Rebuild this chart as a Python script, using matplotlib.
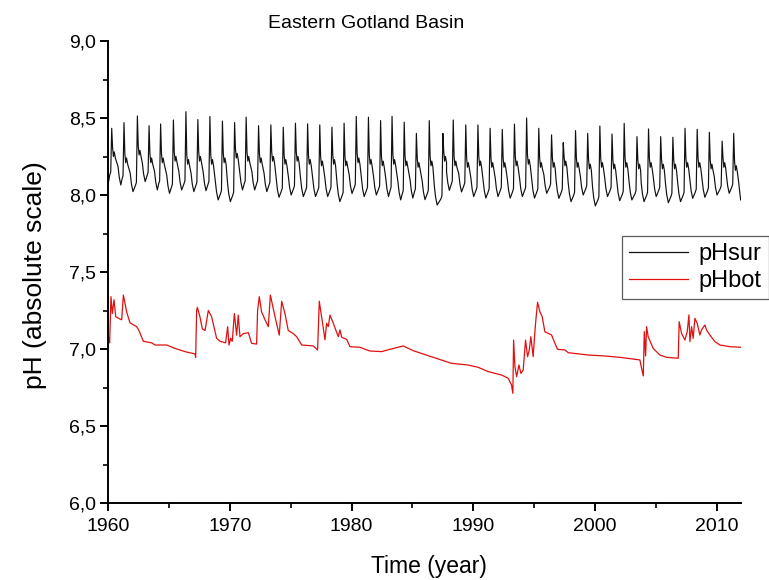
import numpy as np
import matplotlib
matplotlib.use("Agg")
import matplotlib.pyplot as plt
from matplotlib.ticker import MultipleLocator, FuncFormatter

plt.rcParams['font.family'] = ['Liberation Sans', 'DejaVu Sans']

# ---------------- data ----------------
title = "Eastern Gotland Basin"
x_label = "Time (year)"
y_label = "pH (absolute scale)"
series_names = ["pHsur", "pHbot"]

# surface pH: yearly spring peak, winter low (start of each year), summer plateau
sur_years = list(range(1960, 2012))
sur_peak = [8.433, 8.47, 8.513, 8.45, 8.461, 8.487, 8.541, 8.49, 8.51, 8.48,
            8.47, 8.505, 8.45, 8.455, 8.44, 8.466, 8.462, 8.455, 8.44, 8.466,
            8.51, 8.505, 8.483, 8.51, 8.473, 8.40, 8.483, 8.40, 8.487, 8.455,
            8.455, 8.433, 8.426, 8.46, 8.50, 8.433, 8.39, 8.34, 8.418, 8.40,
            8.448, 8.396, 8.465, 8.379, 8.429, 8.379, 8.375, 8.433, 8.427, 8.407,
            8.35, 8.40]
sur_low = [8.09, 8.065, 8.022, 8.087, 8.033, 8.011, 8.033, 8.022, 8.028, 7.968,
           7.957, 8.033, 8.033, 8.022, 7.985, 8.0, 7.99, 7.99, 7.99, 7.957,
           8.01, 7.99, 8.0, 7.99, 7.968, 7.98, 7.97, 7.935, 8.03, 8.02,
           7.99, 7.98, 7.99, 7.98, 7.99, 7.98, 8.011, 7.978, 7.957, 8.0,
           7.929, 7.99, 7.963, 7.968, 7.957, 7.99, 7.95, 7.957, 7.978, 7.985,
           8.0, 8.011, 7.968]
sur_plateau = [8.27, 8.23, 8.28, 8.23, 8.23, 8.24, 8.22, 8.24, 8.22, 8.23,
               8.26, 8.24, 8.23, 8.24, 8.22, 8.24, 8.22, 8.21, 8.22, 8.21,
               8.23, 8.22, 8.21, 8.22, 8.21, 8.20, 8.21, 8.24, 8.21, 8.20,
               8.21, 8.20, 8.20, 8.21, 8.22, 8.20, 8.20, 8.21, 8.20, 8.19,
               8.20, 8.19, 8.20, 8.19, 8.20, 8.19, 8.19, 8.20, 8.20, 8.19,
               8.20, 8.18]
sur_peak_time = [0.28, 0.29, 0.39, 0.35, 0.30, 0.35, 0.38, 0.36, 0.35, 0.38,
                 0.38, 0.33, 0.35, 0.36, 0.38, 0.38, 0.38, 0.38, 0.38, 0.38,
                 0.38, 0.38, 0.38, 0.32, 0.32, 0.32, 0.38, 0.50, 0.35, 0.38,
                 0.38, 0.38, 0.38, 0.38, 0.38, 0.38, 0.43, 0.39, 0.40, 0.40,
                 0.40, 0.40, 0.40, 0.45, 0.40, 0.40, 0.40, 0.40, 0.40, 0.40,
                 0.45, 0.40]
sur_end = (2011.97, 7.968)

bot_years = [1960.00, 1960.06, 1960.11, 1960.22, 1960.33, 1960.47, 1960.61, 1960.82, 1961.10, 1961.24,
             1961.51, 1961.78, 1962.33, 1962.52, 1962.88, 1963.56, 1963.84, 1964.80, 1965.48, 1966.30,
             1967.12, 1967.18, 1967.26, 1967.32, 1967.53, 1967.73, 1967.95, 1968.22, 1968.49, 1968.90,
             1969.18, 1969.64, 1969.81, 1969.92, 1970.06, 1970.19, 1970.36, 1970.47, 1970.55, 1970.68,
             1970.82, 1971.10, 1971.51, 1971.78, 1972.19, 1972.27, 1972.41, 1972.60, 1972.88, 1973.15,
             1973.32, 1973.70, 1974.05, 1974.25, 1974.52, 1974.79, 1975.20, 1975.48, 1975.89, 1976.85,
             1977.20, 1977.34, 1977.53, 1977.81, 1977.94, 1978.08, 1978.22, 1978.49, 1978.76, 1978.90,
             1979.04, 1979.18, 1979.59, 1979.86, 1980.68, 1981.50, 1982.46, 1983.15, 1984.24, 1985.06,
             1985.89, 1987.20, 1988.21, 1989.58, 1990.40, 1991.23, 1992.32, 1992.87, 1993.14, 1993.25,
             1993.31, 1993.42, 1993.56, 1993.75, 1993.91, 1994.10, 1994.29, 1994.46, 1994.60, 1994.73,
             1994.92, 1995.06, 1995.14, 1995.28, 1995.47, 1995.66, 1995.88, 1996.43, 1996.65, 1996.92,
             1997.53, 1997.80, 1999.44, 2000.76, 2002.05, 2003.69, 2003.83, 2003.97, 2004.05, 2004.16,
             2004.24, 2004.37, 2004.78, 2005.33, 2005.88, 2006.84, 2006.92, 2007.11, 2007.39, 2007.58,
             2007.72, 2007.80, 2007.94, 2008.07, 2008.21, 2008.40, 2008.62, 2008.75, 2009.03, 2009.17,
             2009.44, 2009.85, 2010.27, 2011.09, 2011.98]
bot_ph = [7.08, 7.07, 7.04, 7.34, 7.23, 7.32, 7.21, 7.20, 7.19, 7.35,
          7.24, 7.17, 7.145, 7.12, 7.05, 7.04, 7.026, 7.026, 7.004, 6.983,
          6.968, 6.946, 7.25, 7.27, 7.21, 7.13, 7.12, 7.25, 7.21, 7.07,
          7.05, 7.04, 7.145, 7.026, 7.07, 7.05, 7.23, 7.145, 7.09, 7.22,
          7.08, 7.10, 7.106, 7.037, 7.032, 7.25, 7.34, 7.24, 7.19, 7.145,
          7.35, 7.21, 7.09, 7.31, 7.23, 7.12, 7.10, 7.08, 7.026, 7.02,
          6.993, 7.31, 7.21, 7.06, 7.167, 7.145, 7.22, 7.167, 7.11, 7.08,
          7.124, 7.076, 7.063, 7.015, 7.011, 6.987, 6.983, 6.998, 7.02, 6.989,
          6.967, 6.933, 6.907, 6.896, 6.881, 6.853, 6.831, 6.81, 6.766, 6.712,
          7.058, 6.885, 6.82, 6.896, 6.842, 6.864, 7.058, 6.95, 6.994, 7.08,
          6.95, 7.112, 7.188, 7.303, 7.242, 7.21, 7.112, 7.091, 7.048, 6.998,
          6.994, 6.976, 6.961, 6.955, 6.946, 6.929, 6.874, 6.825, 7.113, 6.955,
          7.145, 7.08, 7.004, 6.961, 6.946, 6.94, 7.177, 7.102, 7.058, 7.113,
          7.221, 7.048, 7.145, 7.069, 7.199, 7.167, 7.091, 7.123, 7.156, 7.123,
          7.091, 7.048, 7.026, 7.015, 7.011]

x_ticks = [1960, 1970, 1980, 1990, 2000, 2010]
y_ticks = [6.0, 6.5, 7.0, 7.5, 8.0, 8.5, 9.0]

# ---------------- build surface curve from yearly readings ----------------
sx, sy = [], []
for i, yr in enumerate(sur_years):
    lo, nxt = sur_low[i], sur_low[i + 1]
    pk, pl, pt = sur_peak[i], sur_plateau[i], sur_peak_time[i]
    sx += [yr + 0.03, yr + pt - 0.16, yr + pt - 0.08, yr + pt,
           yr + pt + 0.07, yr + pt + 0.14, yr + pt + 0.21, yr + pt + 0.30,
           yr + 0.80, yr + 0.90]
    sy += [lo, lo + 0.04, lo + 0.06, pk,
           pl + 0.04, pl - 0.02, pl + 0.01, pl - 0.03,
           nxt + 0.12, nxt + 0.05]
sx.append(sur_end[0]); sy.append(sur_end[1])

# ---------------- plot ----------------
fig = plt.figure(figsize=(7.69, 5.80), dpi=100)
ax = fig.add_axes([108.3 / 769, 1 - 503 / 580, (741 - 108.3) / 769, (503 - 41) / 580])

l1, = ax.plot(sx, sy, color='#111111', lw=0.85, label=series_names[0])
l2, = ax.plot(bot_years, bot_ph, color='#e01010', lw=0.9, label=series_names[1])

ax.set_xlim(1960, 2012)
ax.set_ylim(6.0, 9.0)
ax.set_xticks(x_ticks)
ax.set_yticks(y_ticks)
ax.xaxis.set_minor_locator(MultipleLocator(5))
ax.yaxis.set_minor_locator(MultipleLocator(0.25))
ax.yaxis.set_major_formatter(FuncFormatter(lambda v, p: f"{v:.1f}".replace('.', ',')))
ax.xaxis.set_major_formatter(FuncFormatter(lambda v, p: f"{int(round(v))}"))

for s in ['top', 'right']:
    ax.spines[s].set_visible(False)
for s in ['left', 'bottom']:
    ax.spines[s].set_linewidth(1.4)
ax.tick_params(which='major', direction='out', length=6, width=1.4, labelsize=14, pad=3)
ax.tick_params(axis='x', which='major', pad=4.5)
ax.tick_params(which='minor', direction='out', length=3.5, width=1.2)

fig.text(366 / 769, 1 - 23 / 580, title, ha='center', va='center', fontsize=14)
fig.text(429 / 769, 1 - 567 / 580, x_label, ha='center', va='center', fontsize=16.5)
fig.text(35 / 769, 1 - 275 / 580, y_label, ha='center', va='center', rotation=90, fontsize=19)

leg = fig.legend(handles=[l1, l2], loc='upper left',
                 bbox_to_anchor=(622 / 769, 1 - 236 / 580), fontsize=17,
                 frameon=True, fancybox=False, edgecolor='#333333',
                 handlelength=2.5, handletextpad=0.45, borderpad=0.3,
                 labelspacing=0.2, borderaxespad=0)
leg.get_frame().set_linewidth(0.9)
for h in leg.get_lines():
    h.set_linewidth(0.9)

fig.savefig("out.png", dpi=100)
